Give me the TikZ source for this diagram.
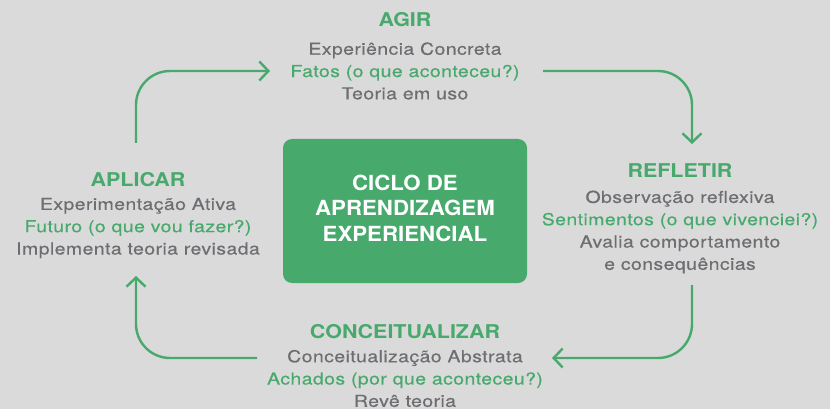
\documentclass[tikz,border=0pt]{standalone}
\usepackage{fontspec}
\setmainfont{TeX Gyre Heros}
\newfontfamily\bodyfont[FakeStretch=1.18,LetterSpace=2.5,FakeBold=0.4]{TeX Gyre Heros}
\newfontfamily\titlefont[FakeStretch=1.13]{TeX Gyre Heros}
\newfontfamily\boxfont[FakeStretch=1.07]{TeX Gyre Heros}
\usetikzlibrary{arrows.meta}
\definecolor{bg}{HTML}{DADADA}
\definecolor{gr}{HTML}{47A96C}
\definecolor{tx}{HTML}{6D6D72}
\tikzset{
  title/.style={font=\titlefont\fontsize{19}{22}\selectfont\bfseries, text=gr, inner sep=0pt},
  body/.style={font=\bodyfont\fontsize{16.5}{22.3}\selectfont, text=tx, align=center, inner sep=0pt},
  flow/.style={draw=gr, line width=2.4pt, rounded corners=34pt, -{Straight Barb[length=9pt,width=19pt,line width=2.4pt]}},
}
\begin{document}
\begin{tikzpicture}[x=1pt,y=-1pt]
\fill[bg] (0,0) rectangle (830,409);
\useasboundingbox (0,0) rectangle (830,409);
\node[fill=gr, rounded corners=9pt, minimum width=244pt, minimum height=144pt, inner sep=0pt] (box) at (405,211) {};
\node[font=\boxfont\fontsize{20.8}{25.5}\selectfont\bfseries, text=white, align=center] (boxt) at (405,208) {CICLO DE\\APRENDIZAGEM\\EXPERIENCIAL};

\node[title] (agirT) at (405,20) {AGIR};
\node[body] (agirB) at (405,71) {Experiência Concreta\\{\color{gr}Fatos (o que aconteceu?)}\\Teoria em uso};

\node[title] (refT) at (680,171) {REFLETIR};
\node[body] (refB) at (680,232) {Observação reflexiva\\{\color{gr}Sentimentos (o que vivenciei?)}\\Avalia comportamento\\e consequências};

\node[title] (apT) at (138,180) {APLICAR};
\node[body] (apB) at (138,228) {Experimentação Ativa\\{\color{gr}Futuro (o que vou fazer?)}\\Implementa teoria revisada};

\node[title] (conT) at (405,332) {CONCEITUALIZAR};
\node[body] (conB) at (405,378.5) {Conceitualização Abstrata\\{\color{gr}Achados (por que aconteceu?)}\\Revê teoria};

\coordinate (a1) at (136,143);
\coordinate (a2) at (270,71);
\coordinate (b1) at (543,71);
\coordinate (b2) at (692,144);
\coordinate (c1) at (692,285);
\coordinate (c2) at (552,358);
\coordinate (d1) at (257,358);
\coordinate (d2) at (136,276);
\draw[flow] (a1) |- (a2);
\draw[flow] (b1) -| (b2);
\draw[flow] (c1) |- (c2);
\draw[flow] (d1) -| (d2);
\end{tikzpicture}
\end{document}
